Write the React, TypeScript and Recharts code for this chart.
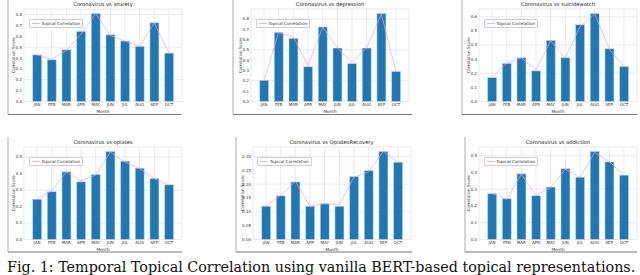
import React from 'react';
import {
  ComposedChart,
  ScatterChart,
  Bar,
  Line,
  XAxis,
  YAxis,
  CartesianGrid,
  Legend,
} from 'recharts';

// months on every x axis
const months = ['JAN', 'FEB', 'MAR', 'APR', 'MAY', 'JUN', 'JUL', 'AUG', 'SEP', 'OCT'];

// bar heights (correlation score) and pink topical-correlation line
const anxietyScores = [0.43, 0.385, 0.477, 0.646, 0.812, 0.615, 0.557, 0.508, 0.726, 0.446];
const anxietyTopical = [0.43, 0.39, 0.47, 0.62, 0.81, 0.61, 0.555, 0.51, 0.725, 0.445];
const depressionScores = [0.205, 0.67, 0.612, 0.337, 0.722, 0.518, 0.369, 0.518, 0.854, 0.291];
const depressionTopical = [0.205, 0.67, 0.625, 0.35, 0.72, 0.52, 0.38, 0.52, 0.85, 0.29];
const suicideScores = [0.17, 0.27, 0.31, 0.217, 0.433, 0.31, 0.544, 0.624, 0.374, 0.248];
const suicideTopical = [0.17, 0.27, 0.31, 0.225, 0.43, 0.31, 0.53, 0.62, 0.37, 0.25];
const opiatesScores = [0.244, 0.29, 0.41, 0.35, 0.394, 0.534, 0.474, 0.432, 0.37, 0.332];
const opiatesTopical = [0.245, 0.295, 0.41, 0.355, 0.39, 0.53, 0.47, 0.43, 0.37, 0.33];
const recoveryScores = [0.12, 0.158, 0.208, 0.12, 0.129, 0.12, 0.227, 0.249, 0.318, 0.279];
const recoveryTopical = [0.12, 0.16, 0.21, 0.12, 0.13, 0.125, 0.225, 0.245, 0.318, 0.28];
const addictionScores = [0.274, 0.244, 0.392, 0.262, 0.313, 0.423, 0.372, 0.526, 0.463, 0.384];
const addictionTopical = [0.274, 0.24, 0.39, 0.262, 0.31, 0.42, 0.37, 0.52, 0.465, 0.385];

// y tick labels
const ticksTo08 = [0, 0.1, 0.2, 0.3, 0.4, 0.5, 0.6, 0.7, 0.8];
const ticksTo06 = [0, 0.1, 0.2, 0.3, 0.4, 0.5, 0.6];
const ticksTo05 = [0, 0.1, 0.2, 0.3, 0.4, 0.5];
const ticksTo030 = [0, 0.05, 0.1, 0.15, 0.2, 0.25, 0.3];

// ticks of the faint outer image frame
const outerXTicks = [0, 10, 20, 30, 40, 50, 60];
const outerYTicks = [0, 5, 10, 15, 20, 25, 30, 35, 40];

const caption = 'Fig. 1: Temporal Topical Correlation using vanilla BERT-based topical representations.';

const FONT = '"DejaVu Sans", sans-serif';
const BAR_BLUE = '#1f77b4';
const PINK = '#f2a0e2';

const AXES_W = 158;
const AXES_H = 92.5;
const Y_AXIS_W = 14;
const LEFT_M = 10;
const X_AXIS_H = 14;
const TOP_M = 8;

const panels = [
  { title: 'Coronavirus vs anxiety', scores: anxietyScores, topical: anxietyTopical, ticks: ticksTo08, digits: 1, x: 24, y: 8.6 },
  { title: 'Coronavirus vs depression', scores: depressionScores, topical: depressionTopical, ticks: ticksTo08, digits: 1, x: 251, y: 8.6 },
  { title: 'Coronavirus vs suicidewatch', scores: suicideScores, topical: suicideTopical, ticks: ticksTo06, digits: 1, x: 479, y: 8.6 },
  { title: 'Coronavirus vs opiates', scores: opiatesScores, topical: opiatesTopical, ticks: ticksTo05, digits: 1, x: 24, y: 146.5, rightSpine: true },
  { title: 'Coronavirus vs OpiatesRecovery', scores: recoveryScores, topical: recoveryTopical, ticks: ticksTo030, digits: 2, x: 252.5, y: 146.5, rightSpine: true },
  { title: 'Coronavirus vs addiction', scores: addictionScores, topical: addictionTopical, ticks: ticksTo05, digits: 1, x: 479, y: 146.5 },
];

const frames = [
  { left: 8, top: 0, right: 181, bottom: 114.5 },
  { left: 233, top: 0, right: 412, bottom: 114.5 },
  { left: 462, top: 0, right: 637, bottom: 114.5 },
  { left: 8, top: 137, right: 182, bottom: 252 },
  { left: 236, top: 137, right: 412, bottom: 252 },
  { left: 465, top: 137, right: 637, bottom: 252 },
];

const LegendBox = ({ payload }: any) => (
  <div
    style={{
      display: 'inline-flex',
      alignItems: 'center',
      border: '0.5px solid #d0d0d0',
      borderRadius: 1,
      background: 'rgba(255,255,255,0.85)',
      padding: '1px 2px',
      fontSize: 4.2,
      lineHeight: '5px',
      fontFamily: FONT,
      color: '#333',
      whiteSpace: 'nowrap',
    }}
  >
    {(payload || [])
      .filter((entry: any) => entry.dataKey === 'topical')
      .map((entry: any) => (
        <span key={entry.value} style={{ display: 'inline-flex', alignItems: 'center' }}>
          <svg width={8} height={3}>
            <line x1={0} y1={1.5} x2={8} y2={1.5} stroke={entry.color} strokeWidth={0.8} />
          </svg>
          <span style={{ marginLeft: 2 }}>{entry.value}</span>
        </span>
      ))}
  </div>
);

const Frame = ({ f }: any) => (
  <div style={{ position: 'absolute', left: f.left - 8, top: f.top }}>
    <ScatterChart
      width={f.right - f.left + 10}
      height={f.bottom - f.top + 7}
      margin={{ top: 0, right: 2, left: 0, bottom: 0 }}
    >
      <XAxis
        type="number"
        dataKey="x"
        domain={[0, 62]}
        ticks={outerXTicks}
        height={7}
        tick={{ fontSize: 3, fill: '#999', fontFamily: FONT }}
        tickSize={1.5}
        tickLine={{ stroke: '#999', strokeWidth: 0.4 }}
        axisLine={{ stroke: '#555', strokeWidth: 0.8 }}
      />
      <YAxis
        type="number"
        dataKey="y"
        domain={[0, 40]}
        reversed
        ticks={outerYTicks}
        width={8}
        tick={{ fontSize: 3, fill: '#999', fontFamily: FONT }}
        tickSize={1.5}
        tickLine={{ stroke: '#999', strokeWidth: 0.4 }}
        axisLine={{ stroke: '#777', strokeWidth: 0.6 }}
      />
    </ScatterChart>
  </div>
);

const Panel = ({ p }: any) => {
  const rows = months.map((m, i) => ({ month: m, score: p.scores[i], topical: p.topical[i] }));
  const yMax = Math.max(...p.scores) * 1.05;
  const width = LEFT_M + Y_AXIS_W + AXES_W + 3;
  const height = TOP_M + AXES_H + X_AXIS_H;
  return (
    <>
      <div
        style={{
          position: 'absolute',
          left: p.x,
          top: p.y - 7.8,
          width: AXES_W,
          textAlign: 'center',
          fontSize: 5.2,
          lineHeight: '6px',
          fontFamily: FONT,
          color: '#222',
          whiteSpace: 'nowrap',
        }}
      >
        {p.title}
      </div>
      <div style={{ position: 'absolute', left: p.x - LEFT_M - Y_AXIS_W, top: p.y - TOP_M }}>
        <ComposedChart
          width={width}
          height={height}
          data={rows}
          barCategoryGap="20%"
          margin={{ top: TOP_M, right: 3, left: LEFT_M, bottom: 0 }}
        >
          <CartesianGrid stroke="#dcdcdc" strokeWidth={0.6} />
          <XAxis
            dataKey="month"
            height={X_AXIS_H}
            interval={0}
            padding={{ left: 5.7, right: 5.7 }}
            tick={{ fontSize: 4, fill: '#333', fontFamily: FONT }}
            tickLine={false}
            tickSize={1.5}
            tickMargin={0.5}
            axisLine={false}
            label={{ value: 'Month', position: 'insideBottom', offset: 3, fontSize: 4.2, fill: '#333', fontFamily: FONT }}
          />
          <YAxis
            width={Y_AXIS_W}
            domain={[0, yMax]}
            ticks={p.ticks}
            tickFormatter={(v: number) => v.toFixed(p.digits)}
            tick={{ fontSize: 4, fill: '#333', fontFamily: FONT }}
            tickLine={false}
            tickSize={1}
            tickMargin={1}
            axisLine={false}
            label={{
              value: 'Correlation Score',
              angle: -90,
              position: 'insideLeft',
              offset: 3.5,
              fontSize: 4.2,
              fill: '#333',
              fontFamily: FONT,
              style: { textAnchor: 'middle' },
            }}
          />
          {p.rightSpine && (
            <YAxis
              yAxisId="spine"
              orientation="right"
              width={0}
              domain={[0, yMax]}
              tick={false}
              tickLine={false}
              axisLine={{ stroke: '#888', strokeWidth: 1.2 }}
            />
          )}
          <Legend
            layout="horizontal"
            align="center"
            verticalAlign="middle"
            content={<LegendBox />}
            wrapperStyle={{ left: LEFT_M + Y_AXIS_W + 4.5, top: TOP_M + 2.2, width: 'auto' }}
          />
          <Bar
            dataKey="score"
            fill={BAR_BLUE}
            stroke="#d3e4f1"
            strokeWidth={0.5}
            legendType="none"
            isAnimationActive={false}
          />
          <Line
            type="linear"
            dataKey="topical"
            name="Topical Correlation"
            stroke={PINK}
            strokeWidth={0.7}
            dot={false}
            isAnimationActive={false}
          />
        </ComposedChart>
      </div>
    </>
  );
};

export default function App() {
  return (
    <div
      style={{
        position: 'absolute',
        left: 0,
        top: 0,
        width: 640,
        height: 275,
        background: '#fff',
        overflow: 'hidden',
      }}
    >
      {frames.map((f, i) => (
        <Frame key={'f' + i} f={f} />
      ))}
      {panels.map((p) => (
        <Panel key={p.title} p={p} />
      ))}
      <div
        style={{
          position: 'absolute',
          left: 7,
          top: 259.5,
          fontFamily: '"DejaVu Serif", serif',
          fontSize: 14.3,
          lineHeight: '14.3px',
          color: '#111',
          whiteSpace: 'nowrap',
        }}
      >
        {caption}
      </div>
    </div>
  );
}
